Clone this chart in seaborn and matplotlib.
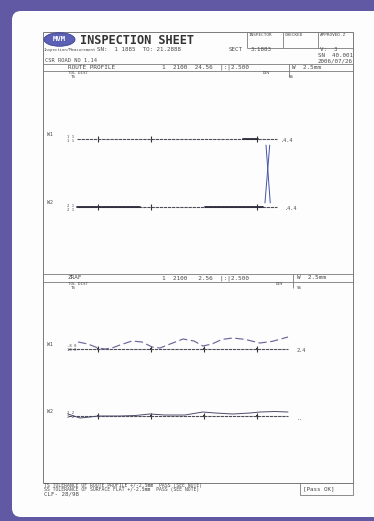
import matplotlib
matplotlib.use("Agg")
import matplotlib.pyplot as plt
from matplotlib.patches import FancyBboxPatch, Ellipse, Rectangle
import seaborn as sns

sns.set_style("white")
plt.rcParams["font.family"] = ["DejaVu Sans Mono", "DejaVu Sans"]

W, H = 374, 521

# ---------------- data ----------------
# stations along the measured run (m)
stations_profile = [1, 3, 7]
stations_flat = [1, 3, 5, 7]
profile_span = [0.2, 7.76]
flat_span = [-0.13, 8.17]

# route profile: rows and the heavier measured stretches on each
profile_rows = ["W1", "W2"]
profile_level = {"W1": 1.0, "W2": 0.0}
w1_profile_heavy = [[6.47, 7.04]]
w2_profile_heavy = [[0.2, 2.58], [5.04, 7.23]]
# transition traces between the two rows
cross_a_x = [7.34, 7.50]
cross_a_level = [0.91, 0.06]
cross_b_x = [7.48, 7.30]
cross_b_level = [0.91, 0.06]

# flatness: deviation from reference (mm)
flat_w1_x = [0.25, 0.62, 1.0, 1.26, 1.53, 1.83, 2.28, 2.66, 3.04, 3.34, 3.72,
             4.21, 4.62, 4.96, 5.30, 5.68, 6.09, 6.55, 7.11, 7.57, 8.17]
flat_w1_dev = [1.75, 1.25, 0.25, 0.0, 0.25, 1.0, 2.0, 1.75, 0.5, 0.25, 1.25,
               2.5, 2.0, 0.75, 1.25, 2.4, 2.75, 2.4, 1.5, 1.9, 3.0]
flat_w2_x = [-0.13, 0.09, 0.32, 0.70, 1.0, 1.83, 2.4, 2.96, 3.53, 4.28, 4.96,
             5.42, 6.09, 6.74, 7.11, 7.68, 8.17]
flat_w2_dev = [0.5, 0.0, -0.5, -0.25, 0.0, 0.0, 0.12, 0.5, 0.25, 0.25, 1.0,
               0.75, 0.5, 0.75, 1.0, 1.12, 1.0]

# ---------------- figure ----------------
fig = plt.figure(figsize=(W / 100, H / 100), dpi=100)
fig.patch.set_facecolor("#6159a3")

lay = fig.add_axes([0, 0, 1, 1])
lay.set_xlim(0, W)
lay.set_ylim(H, 0)
lay.axis("off")

# page
lay.add_patch(FancyBboxPatch((12, 11), 380, 506,
                             boxstyle="round,pad=0,rounding_size=9",
                             fc="#fdfdfd", ec="none"))

INK = "#4a4a4a"
RULE = "#7a7a7a"


def txt(x, y, s, size=4.3, **kw):
    kw.setdefault("color", INK)
    lay.text(x, y, s, fontsize=size, va="center", ha="left", **kw)


def hline(y, x0=43, x1=353, lw=0.6):
    lay.plot([x0, x1], [y, y], color=RULE, lw=lw, solid_capstyle="butt")


def vline(x, y0, y1, lw=0.6):
    lay.plot([x, x], [y0, y1], color=RULE, lw=lw, solid_capstyle="butt")


# sheet frame
lay.add_patch(Rectangle((43, 32), 310, 451, fill=False, ec=RULE, lw=0.7))

# header: logo + title + sign-off boxes
lay.add_patch(Ellipse((59.5, 39.5), 31, 13.5, fc="#5b60b4", ec="#3d4295", lw=0.6))
lay.text(59.5, 39.2, "MVM", fontsize=5.2, color="white", ha="center",
         va="center", fontweight="bold")
lay.text(80, 40, "INSPECTION SHEET", fontsize=8.6, color="#333333",
         fontweight="bold", va="center", ha="left")
for xb in (247, 283, 318):
    vline(xb, 32, 48)
hline(48, 247, 353)
txt(249, 35.5, "INSPECTOR", 3.2)
txt(285, 35.5, "CHECKED", 3.2)
txt(320, 35.5, "APPROVED-Z", 3.2)

txt(44, 49.5, "Inspection/Measurement", 2.9)
txt(97, 49.5, "SN:  1 1885  TO: 21.2888", 4.2)
txt(229, 49.5, "SECT", 4.2)
txt(251, 49.5, "3:1883", 4.2)
txt(320, 49.5, "V:  3", 4.2)
txt(318, 55.5, "SN  40.001", 4.2)
txt(45, 61, "CSR ROAD NO 1.14", 3.9)
txt(318, 61, "2006/07/26", 4.2)

hline(64)
txt(68, 67.5, "ROUTE PROFILE", 4.3)
txt(162, 67.5, "1  2100  24.56  |:|2.500", 4.3)
vline(289, 64, 77)
txt(292, 67.5, "W  2.5mm", 4.3)
hline(71)
txt(68, 72.8, "TOL DIST", 3.1)
txt(263, 72.8, "DEV", 3.1)
txt(71, 77.4, "TS", 3.1)
txt(289, 77.4, "SS", 3.1)

# section two header
hline(273.5)
txt(68, 277.8, "ZRAF", 4.3)
txt(162, 277.8, "1  2100   2.56  |:|2.500", 4.3)
vline(293, 273.5, 288)
txt(297, 277.8, "W  2.5mm", 4.3)
hline(282)
txt(68, 283.8, "TOL DIST", 3.1)
txt(276, 283.8, "DEV", 3.1)
txt(71, 288.4, "TS", 3.1)
txt(297, 288.4, "SS", 3.1)

# row labels
txt(47, 135, "W1", 3.6)
txt(67, 137.3, "1 1", 2.8)
txt(67, 141.2, "1 1", 2.8)
txt(281, 141, ".4.4", 3.8)
txt(47, 202, "W2", 3.6)
txt(67, 205.8, "2 1", 2.8)
txt(67, 209.7, "2 1", 2.8)
txt(285, 208, ".4.4", 3.8)

txt(47, 344, "W1", 3.6)
txt(67, 346.3, ".8 8", 2.8)
txt(67, 350.2, "18 8", 2.8)
txt(297, 350, "2.4", 3.8)
txt(47, 411.5, "W2", 3.6)
txt(67, 413.3, "2 2", 2.8)
txt(67, 417.2, "2 2", 2.8)
txt(297, 418, "..", 3.8)

# footer
txt(44, 485, "TS TOLERANCE OF ROUTE PROFILE +/-2.5mm  PASS (SEE NOTE)", 3.4)
txt(44, 489, "SS TOLERANCE OF SURFACE FLAT +/-2.5mm  PASS (SEE NOTE)", 3.4)
txt(44, 494, "CLF- 28/98", 4.2)
lay.add_patch(Rectangle((300, 483), 53, 12, fill=False, ec=RULE, lw=0.6))
txt(303, 488.5, "[Pass OK]", 4.2)


# ---------------- measured traces ----------------
def px_axes(x0, y0, x1, y1):
    ax = fig.add_axes([x0 / W, 1 - y1 / H, (x1 - x0) / W, (y1 - y0) / H])
    ax.patch.set_alpha(0)
    ax.axis("off")
    return ax


def dashed_last(ax, pattern):
    ax.lines[-1].set_linestyle((0, pattern))


BASE = "#4e4e5a"
HEAVY = "#2a2a3c"

# route profile
ax1 = px_axes(66.2, 125, 288.8, 220)
ax1.set_xlim(-0.2, 8.2)
ax1.set_ylim(-0.191, 1.206)
heavy = {"W1": w1_profile_heavy, "W2": w2_profile_heavy}
for row in profile_rows:
    lvl = profile_level[row]
    sns.lineplot(x=profile_span, y=[lvl, lvl], ax=ax1, color=BASE, lw=0.8)
    dashed_last(ax1, (3, 0.7))
    for seg in heavy[row]:
        sns.lineplot(x=seg, y=[lvl, lvl], ax=ax1, color=HEAVY, lw=1.3)
    sns.scatterplot(x=stations_profile, y=[lvl] * len(stations_profile), ax=ax1,
                    marker="|", s=22, color="#333333", linewidth=0.8)
sns.lineplot(x=cross_a_x, y=cross_a_level, ax=ax1, color="#4650a8", lw=0.7,
             sort=False, estimator=None)
sns.lineplot(x=cross_b_x, y=cross_b_level, ax=ax1, color="#4650a8", lw=0.7,
             sort=False, estimator=None)

# flatness W1
ax2 = px_axes(66.2, 325, 288.8, 360)
ax2.set_xlim(-0.2, 8.2)
ax2.set_ylim(-2.75, 6.0)
sns.lineplot(x=flat_span, y=[0, 0], ax=ax2, color=BASE, lw=0.8)
dashed_last(ax2, (3, 0.7))
sns.scatterplot(x=stations_flat, y=[0] * len(stations_flat), ax=ax2,
                marker="|", s=16, color="#333333", linewidth=0.8)
sns.scatterplot(x=stations_flat, y=[0] * len(stations_flat), ax=ax2,
                marker="s", s=3, color="#333333", linewidth=0)
sns.lineplot(x=flat_w1_x, y=flat_w1_dev, ax=ax2, color="#6a679c", lw=0.85,
             sort=False, estimator=None)
dashed_last(ax2, (7, 3))

# flatness W2
ax3 = px_axes(66.2, 400, 288.8, 430)
ax3.set_xlim(-0.2, 8.2)
ax3.set_ylim(-3.5, 4.0)
sns.lineplot(x=flat_span, y=[0, 0], ax=ax3, color=BASE, lw=0.8)
dashed_last(ax3, (3, 0.7))
sns.scatterplot(x=stations_flat, y=[0] * len(stations_flat), ax=ax3,
                marker="|", s=16, color="#333333", linewidth=0.8)
sns.scatterplot(x=stations_flat, y=[0] * len(stations_flat), ax=ax3,
                marker="s", s=3, color="#333333", linewidth=0)
sns.lineplot(x=flat_w2_x, y=flat_w2_dev, ax=ax3, color="#4c4c6e", lw=0.7,
             sort=False, estimator=None)

fig.savefig("out.png", dpi=100, facecolor=fig.get_facecolor())
